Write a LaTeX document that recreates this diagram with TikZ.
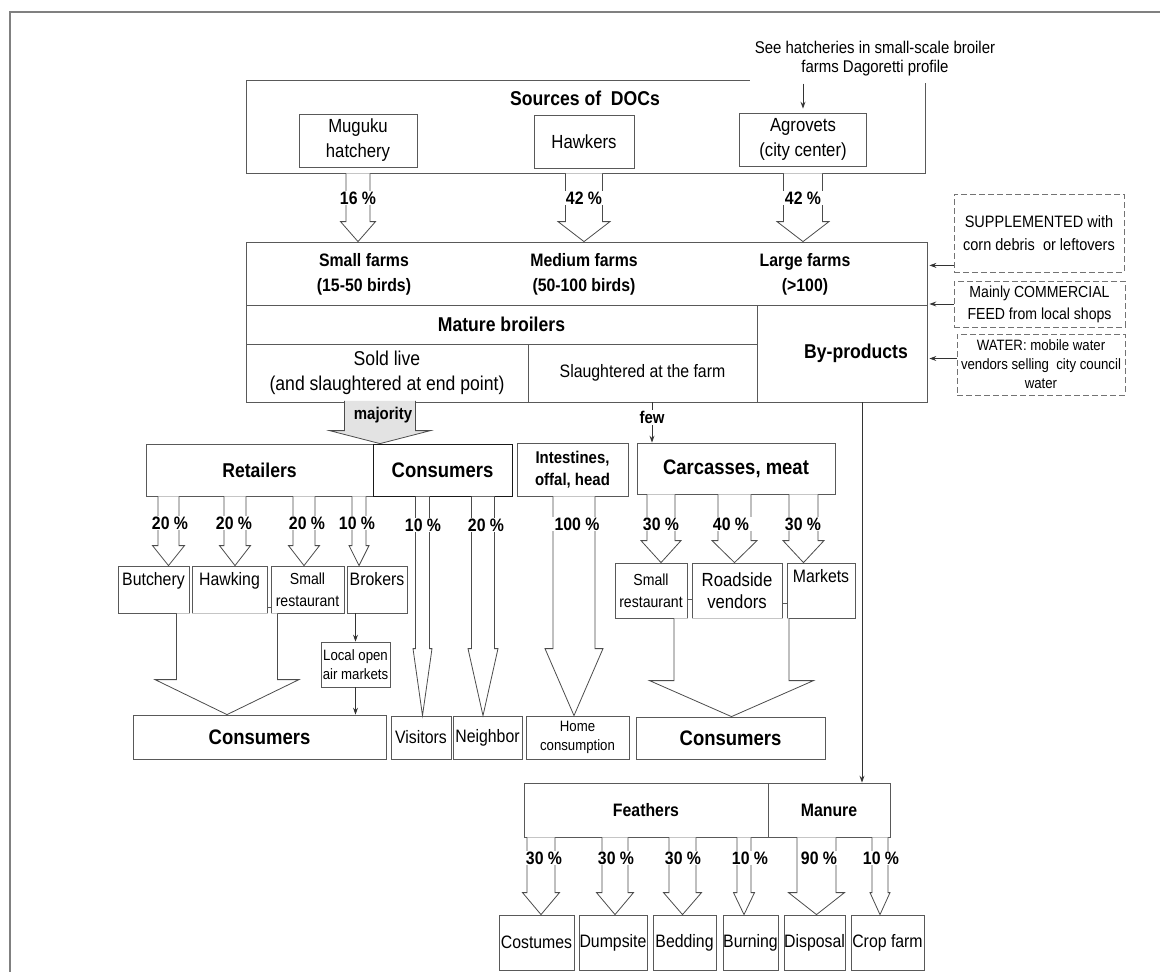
\documentclass[tikz,border=0pt]{standalone}
\usepackage{fontspec}
\setmainfont{Liberation Sans}[FakeStretch=0.88]
\usetikzlibrary{arrows.meta,calc}

\newcommand{\fsize}[2]{\fontsize{#1}{#2}\selectfont}

% open block arrow: [options]{from}{to}{stem half}{head half}{head length}
\newcommand{\fatarrow}[6][]{%
  \draw[flow,#1] let \p1=(#2), \p2=(#3) in
    ({\x1-#4pt},\y1) -- ({\x1-#4pt},{\y2+#6pt}) -- ({\x1-#5pt},{\y2+#6pt}) -- (\x1,\y2)
    -- ({\x1+#5pt},{\y2+#6pt}) -- ({\x1+#4pt},{\y2+#6pt}) -- ({\x1+#4pt},\y1);}

\tikzset{
  cell/.style={draw=black!65, line width=0.8pt, inner sep=0pt, align=center, font=\fsize{19}{25}},
  sz/.style 2 args={minimum width=#1, minimum height=#2},
  hbold/.style 2 args={inner sep=0pt, align=center, font=\bfseries\fsize{#1}{#2}},
  txt/.style 2 args={inner sep=0pt, align=center, font=\fsize{#1}{#2}},
  pct/.style={fill=white, inner xsep=3pt, inner ysep=1pt, font=\bfseries\fsize{18}{21}},
  flow/.style={draw=black!70, line width=0.8pt, fill=white, line join=miter},
  dashbox/.style={draw=black!55, line width=0.8pt, dash pattern=on 6pt off 3pt, align=center, inner sep=0pt, font=\fsize{17}{21}},
  thinarrow/.style={draw=black!80, line width=0.8pt, -{Stealth[length=7pt, width=5pt, inset=2.5pt]}},
  tick/.style={draw=black!65, line width=0.8pt},
  toptext/.style={label={[anchor=north, inner sep=0pt, yshift=-7pt, align=center, font=\fsize{18}{21}]north:#1}},
}

\begin{document}
\begin{tikzpicture}[x=1pt, y=-1pt]
\useasboundingbox (0,0) rectangle (1160,972);
\draw[gray, line width=2pt] (10,972) -- (10,12) -- (1160,12);

% sources of day-old chicks
\node[cell, sz={679}{93}] (sources) at (585.5,126.5) {};
\node[hbold={20}{24}] (srctitle) at (585,98) {Sources of~~DOCs};
\node[cell, sz={118}{53}] (src1) at (358,140.5) {Muguku\\hatchery};
\node[cell, sz={100}{53}] (src2) at (584,141.5) {Hawkers};
\node[cell, sz={127}{53}] (src3) at (803,139.5) {Agrovets\\(city center)};

\node[txt={17}{19}, fill=white, inner ysep=7pt, inner xsep=5pt] (note) at (875,59)
  {See hatcheries in small-scale broiler\\farms Dagoretti profile};
\draw[thinarrow, shorten >=4pt] (src3 |- note.south) -- (src3.north);

% farms block
\node[cell, sz={681}{63}] (farmrow) at (586.5,273.5) {};
\node[hbold={18}{25}] (smallf) at (364,274.5) {Small farms\\(15-50 birds)};
\node[hbold={18}{25}] (medf) at (584,274.5) {Medium farms\\(50-100 birds)};
\node[hbold={18}{25}] (largef) at (805,274.5) {Large farms\\(>100)};
\node[cell, sz={511}{39}, font=\bfseries\fsize{20}{24}] (mature) at (501.5,324.5) {Mature broilers};
\node[cell, sz={282}{58}, font=\fsize{20}{25}] (soldlive) at (387,373) {Sold live\\(and slaughtered at end point)};
\node[cell, sz={229}{58}, font=\fsize{18}{25}] (slaught) at (642.5,373) {Slaughtered at the farm};
\node[cell, sz={170}{97}] (byprod) at (842,353.5) {};
\node[hbold={20}{24}] (byptext) at (856,353) {By-products};

% inputs
\node[dashbox, sz={170}{78}, font=\fsize{16.5}{23}] (supp) at (1039,233) {SUPPLEMENTED with\\corn debris~~or leftovers};
\node[dashbox, sz={171}{46}, font=\fsize{16}{22}] (feed) at (1039.5,304) {Mainly COMMERCIAL\\FEED from local shops};
\node[dashbox, sz={168}{61}, font=\fsize{15}{19}] (water) at (1041,364.5) {WATER: mobile water\\vendors selling~~city council\\water};
\coordinate (suppin) at ([yshift=7pt]supp.south west);
\coordinate (waterin) at ([yshift=6pt]water.west);
\draw[thinarrow, shorten >=2pt] (suppin) -- (suppin -| farmrow.east);
\draw[thinarrow, shorten >=2pt] (feed.west) -- (feed.west -| farmrow.east);
\draw[thinarrow, shorten >=2pt] (waterin) -- (waterin -| byprod.east);

% second level
\node[cell, sz={227}{52}, font=\bfseries\fsize{20}{24}] (retail) at (259.5,470) {Retailers};
\node[cell, sz={139}{52}, draw=black!90, line width=1pt, font=\bfseries\fsize{21}{24}] (cons1) at (442.5,470) {Consumers};
\node[cell, sz={111}{53}, font=\bfseries\fsize{17}{22}] (intest) at (572.5,469.5) {Intestines,\\offal, head};
\node[cell, sz={198}{51}, font=\bfseries\fsize{21}{24}] (carc) at (736,468.5) {Carcasses, meat};

\node[cell, sz={71}{47}, toptext={Butchery}] (butch) at (153.5,589.5) {};
\node[cell, sz={75}{47}, toptext={Hawking}] (hawk) at (229.5,589.5) {};
\node[cell, sz={73}{47}, font=\fsize{16}{22}] (rest1) at (307.5,589.5) {Small\\restaurant};
\node[cell, sz={60}{47}, toptext={Brokers}] (brok) at (377,589.5) {};
\node[cell, sz={72}{55}, font=\fsize{16}{22}] (rest2) at (651,590.5) {Small\\restaurant};
\node[cell, sz={90}{55}, font=\fsize{19}{22}] (road) at (737,590.5) {Roadside\\vendors};
\node[cell, sz={68}{55}, toptext={Markets}] (mark) at (821,590.5) {};
\draw[tick] ([yshift=-17.5pt]hawk.east) -- ([yshift=-17.5pt]rest1.west);
\draw[tick] ([yshift=-8.5pt]rest2.east) -- ([yshift=-8.5pt]road.west);
\draw[tick] ([yshift=-12.5pt]road.east) -- ([yshift=-12.5pt]mark.west);

\node[cell, sz={69}{45}, font=\fsize{15}{19}] (local) at (355.5,664.5) {Local open\\air markets};
\node[cell, sz={253}{44}, font=\bfseries\fsize{21}{24}] (cons2) at (259.5,737) {Consumers};
\node[cell, sz={60}{43}, font=\fsize{18}{22}] (vis) at (421,737.5) {Visitors};
\node[cell, sz={69}{43}, font=\fsize{18}{22}] (neigh) at (487.5,737.5) {Neighbor};
\node[cell, sz={103}{43}, font=\fsize{15}{19}] (home) at (577.5,737.5) {Home\\consumption};
\node[cell, sz={189}{42}, font=\bfseries\fsize{21}{24}] (cons3) at (730.5,738) {Consumers};

% by-products
\node[cell, sz={244}{54}, font=\bfseries\fsize{18}{22}] (feath) at (646,810) {Feathers};
\node[cell, sz={122}{54}, font=\bfseries\fsize{18}{22}] (manure) at (829,810) {Manure};
\node[cell, sz={75}{55}, font=\fsize{18}{22}] (cost) at (536.5,942.5) {Costumes};
\node[cell, sz={68}{55}, font=\fsize{18}{22}] (dump) at (613,942.5) {Dumpsite};
\node[cell, sz={63}{55}, font=\fsize{18}{22}] (bedd) at (684.5,942.5) {Bedding};
\node[cell, sz={55}{55}, font=\fsize{18}{22}] (burn) at (750.5,942.5) {Burning};
\node[cell, sz={61}{55}, font=\fsize{18}{22}] (disp) at (814.5,942.5) {Disposal};
\node[cell, sz={73}{55}, font=\fsize{18}{22}] (crop) at (887.5,942.5) {Crop farm};

% flows
\fatarrow{src1 |- sources.south}{src1 |- farmrow.north}{12}{17.5}{20}
\fatarrow{src2 |- sources.south}{src2 |- farmrow.north}{18.5}{26}{20}
\fatarrow{src3 |- sources.south}{src3 |- farmrow.north}{19.5}{26}{20}

\coordinate (maj) at (380,0);
\path (maj |- soldlive.south) coordinate (majbase);
\coordinate (majtop) at ([yshift=1.5pt]majbase);
\fatarrow[fill=gray!22]{majtop}{maj |- retail.north}{35.5}{50.5}{13}
\node[hbold={17}{20}] (majlbl) at (383,415) {majority};
\coordinate (fewx) at (652,0);
\draw[thinarrow] (fewx |- slaught.south) -- node[pct, font=\bfseries\fsize{17}{20}, pos=0.37] (fewlbl) {few} (fewx |- carc.north);

\coordinate (r1) at (168.5,0);
\coordinate (r2) at (235,0);
\coordinate (r3) at (304,0);
\coordinate (r4) at (359,0);
\coordinate (r5) at (422.5,0);
\coordinate (r6) at (483,0);
\coordinate (r7) at (574,0);
\fatarrow{r1 |- retail.south}{r1 |- butch.north}{10.5}{16}{20}
\fatarrow{r2 |- retail.south}{r2 |- hawk.north}{11}{15.5}{20}
\fatarrow{r3 |- retail.south}{r3 |- rest1.north}{11}{15.5}{20}
\fatarrow{r4 |- retail.south}{r4 |- brok.north}{7}{10}{20}
\fatarrow{r5 |- cons1.south}{r5 |- vis.north}{7}{9.5}{67}
\fatarrow{r6 |- cons1.south}{r6 |- neigh.north}{11.5}{15}{67}
\fatarrow{r7 |- intest.south}{r7 |- home.north}{21}{29}{67}

\coordinate (k1) at (661,0);
\coordinate (k2) at (734.5,0);
\coordinate (k3) at (803.5,0);
\fatarrow{k1 |- carc.south}{k1 |- rest2.north}{14}{20}{22}
\fatarrow{k2 |- carc.south}{k2 |- road.north}{16.5}{22.5}{22}
\fatarrow{k3 |- carc.south}{k3 |- mark.north}{14.5}{20.5}{22}

\draw[thinarrow] (local.north |- brok.south) -- (local.north);
\draw[thinarrow] (local.south) -- (local.south |- cons2.north);
\coordinate (v1) at (227,0);
\coordinate (v2) at (731.5,0);
\fatarrow{v1 |- butch.south}{v1 |- cons2.north}{50.5}{72}{35}
\fatarrow{v2 |- rest2.south}{v2 |- cons3.north}{57.5}{82}{36}

\coordinate (bp) at (862,0);
\draw[thinarrow] (bp |- byprod.south) -- (bp |- manure.north);

\coordinate (f1) at (541,0);
\coordinate (f2) at (615,0);
\coordinate (f3) at (682.5,0);
\coordinate (f4) at (744,0);
\coordinate (f5) at (816.5,0);
\coordinate (f6) at (880,0);
\fatarrow{f1 |- feath.south}{f1 |- cost.north}{14}{18.5}{22}
\fatarrow{f2 |- feath.south}{f2 |- dump.north}{13}{18.5}{22}
\fatarrow{f3 |- feath.south}{f3 |- bedd.north}{13.5}{19}{22}
\fatarrow{f4 |- feath.south}{f4 |- burn.north}{7}{10.5}{22}
\fatarrow{f5 |- manure.south}{f5 |- disp.north}{19.5}{28}{22}
\fatarrow{f6 |- manure.south}{f6 |- crop.north}{8}{10}{22}

% shares
\node[pct] (p16) at (358,198) {16 \%};
\node[pct] (p42a) at (584,198) {42 \%};
\node[pct] (p42b) at (803,198) {42 \%};
\node[pct] (p20a) at (170,523) {20 \%};
\node[pct] (p20b) at (234,523) {20 \%};
\node[pct] (p20c) at (307,523) {20 \%};
\node[pct] (p10a) at (357,523) {10 \%};
\node[pct] (p10b) at (423,525) {10 \%};
\node[pct] (p20d) at (486,525) {20 \%};
\node[pct] (p100) at (577,524) {100 \%};
\node[pct] (p30a) at (661,524) {30 \%};
\node[pct] (p40) at (731,524) {40 \%};
\node[pct] (p30b) at (803,524) {30 \%};
\node[pct] (p30c) at (544,858) {30 \%};
\node[pct] (p30d) at (616,858) {30 \%};
\node[pct] (p30e) at (683,858) {30 \%};
\node[pct] (p10c) at (750,858) {10 \%};
\node[pct] (p90) at (819,858) {90 \%};
\node[pct] (p10d) at (881,858) {10 \%};
\end{tikzpicture}
\end{document}
